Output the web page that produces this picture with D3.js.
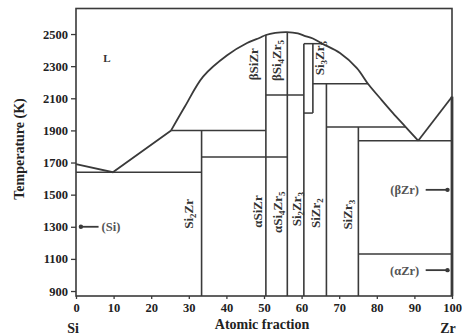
<!DOCTYPE html>
<html>
<head>
<meta charset="utf-8">
<script src="https://cdn.jsdelivr.net/npm/d3@7"></script>
<style>
  body { margin: 0; background: #fff; }
  svg { display: block; font-family: "Liberation Serif", "DejaVu Serif", serif; }
</style>
</head>
<body>
<svg width="462" height="335"></svg>
<script>
// ticks
const xTicks = [0, 10, 20, 30, 40, 50, 60, 70, 80, 90, 100];
const yTicks = [900, 1100, 1300, 1500, 1700, 1900, 2100, 2300, 2500];

// liquidus: [at.% Zr, T (K)]
const liqLeft = [[0, 1690], [9.8, 1640], [25.3, 1900]];
const liqDome = [[25.3, 1900], [29, 2050], [33.8, 2235], [40.2, 2368], [45.5, 2444],
  [48.9, 2477], [50.5, 2494], [53, 2507], [56.1, 2512], [59, 2504], [60.6, 2490],
  [63, 2472], [65.5, 2440], [70.2, 2382], [74.7, 2288], [77.7, 2189], [81.3, 2089],
  [84.3, 2008], [87.7, 1921], [91, 1836]];
const liqRight = [[91, 1836], [100, 2110]];

// invariant lines: [T, x from, x to]
const horizontals = [
  [1640, 0, 33.4], [1900, 25.3, 50.5], [1734, 33.4, 56.2], [2120, 50.5, 60.6],
  [2440, 60.6, 65.5], [2008, 60.6, 63.0], [2190, 63.0, 77.7], [1921, 66.6, 87.7],
  [1836, 75.1, 100], [1130, 75.1, 100]
];
// compound lines: [x, T top, T bottom] (null = down to the axis)
const verticals = [
  [33.4, 1900, null], [50.5, 2494, null], [56.2, 2512, null], [60.6, 2440, null],
  [63.0, 2440, 2008], [66.6, 2190, null], [75.1, 1921, null]
];

// phase labels: [x, T, parts, rotated]
const phaseLabels = [
  [8.2, 2350, [["L"]], false],
  [47.3, 2312, [["βSiZr"]], true],
  [53.3, 2335, [["βSi"], ["4", 1], ["Zr"], ["5", 1]], true],
  [64.8, 2350, [["Si"], ["3", 1], ["Zr"], ["5", 1]], true],
  [30, 1380, [["Si"], ["2", 1], ["Zr"]], true],
  [48.3, 1395, [["αSiZr"]], true],
  [53.6, 1390, [["αSi"], ["4", 1], ["Zr"], ["5", 1]], true],
  [58.5, 1410, [["Si"], ["2", 1], ["Zr"], ["3", 1]], true],
  [63.8, 1385, [["SiZr"], ["2", 1]], true],
  [72.3, 1375, [["SiZr"], ["3", 1]], true]
];
// single phase pointers: [text, label x, T, arrow from, arrow to, dot end]
const pointers = [
  ["(Si)", 9.3, 1300, 1.3, 6.0, 0],
  ["(βZr)", 87.4, 1530, 93.0, 98.8, 1],
  ["(αZr)", 87.4, 1030, 93.0, 98.8, 1]
];

const svg = d3.select("svg");
const x = d3.scaleLinear().domain([0, 100]).range([76, 452]);
const y = d3.scaleLinear().domain([869, 2659]).range([296, 8.5]);
const ink = "#3a3a3a";

// axes
svg.append("g")
  .attr("transform", "translate(76,0)")
  .call(d3.axisLeft(y).tickValues(yTicks).tickSize(5).tickPadding(3).tickFormat(d3.format("d")))
  .call(g => g.select(".domain").remove())
  .call(g => g.selectAll("line").attr("stroke", ink).attr("stroke-width", 1.3))
  .call(g => g.selectAll("text").attr("font-size", 12.5).attr("font-weight", "bold")
    .attr("fill", "#222").attr("font-family", "Liberation Serif"));

svg.append("g")
  .attr("transform", "translate(0,296)")
  .call(d3.axisBottom(x).tickValues(xTicks).tickSize(3).tickPadding(4))
  .call(g => g.select(".domain").remove())
  .call(g => g.selectAll("line").attr("stroke", ink).attr("stroke-width", 1.3))
  .call(g => g.selectAll("text").attr("font-size", 12.5).attr("font-weight", "bold")
    .attr("fill", "#222").attr("font-family", "Liberation Serif"));

// frame
svg.append("rect")
  .attr("x", x(0)).attr("y", y(2659))
  .attr("width", x(100) - x(0)).attr("height", y(869) - y(2659))
  .attr("fill", "none").attr("stroke", ink).attr("stroke-width", 1.6);

const plot = svg.append("g").attr("stroke", ink).attr("fill", "none");

plot.selectAll(".h").data(horizontals).enter().append("line")
  .attr("x1", d => x(d[1])).attr("x2", d => x(d[2]))
  .attr("y1", d => y(d[0])).attr("y2", d => y(d[0]))
  .attr("stroke-width", 1.5);

plot.selectAll(".v").data(verticals).enter().append("line")
  .attr("x1", d => x(d[0])).attr("x2", d => x(d[0]))
  .attr("y1", d => y(d[1])).attr("y2", d => y(d[2] == null ? 869 : d[2]))
  .attr("stroke-width", 1.6);

const straight = d3.line().x(d => x(d[0])).y(d => y(d[1]));
const smooth = d3.line().x(d => x(d[0])).y(d => y(d[1])).curve(d3.curveCatmullRom.alpha(0.5));
plot.append("path").attr("d", straight(liqLeft)).attr("stroke-width", 1.8);
plot.append("path").attr("d", smooth(liqDome)).attr("stroke-width", 1.8);
plot.append("path").attr("d", straight(liqRight)).attr("stroke-width", 1.8);
// thick right edge below the Zr melting point
plot.append("line")
  .attr("x1", x(100)).attr("x2", x(100)).attr("y1", y(2110)).attr("y2", y(869))
  .attr("stroke-width", 2.8);

// pointer arrows
plot.selectAll(".ptr").data(pointers).enter().append("path")
  .attr("d", d => straight([[d[3], d[2]], [d[4], d[2]]]))
  .attr("stroke-width", 1.8);
svg.selectAll(".dot").data(pointers).enter().append("circle")
  .attr("cx", d => x(d[5] ? d[4] : d[3])).attr("cy", d => y(d[2]))
  .attr("r", 2.2).attr("fill", ink);

// labels
const lab = svg.append("g").attr("fill", "#333").attr("font-weight", "bold");
phaseLabels.forEach(([lx, lt, parts, rot]) => {
  const t = lab.append("text")
    .attr("font-size", rot ? 13 : 11)
    .attr("text-anchor", "middle")
    .attr("dy", "0.35em")
    .attr("transform", `translate(${x(lx)},${y(lt)})` + (rot ? " rotate(-90)" : ""));
  let shifted = false;
  parts.forEach(([s, sub]) => {
    const ts = t.append("tspan").text(s);
    if (sub) { ts.attr("font-size", 9).attr("dy", shifted ? null : 3); shifted = true; }
    else if (shifted) { ts.attr("dy", -3); shifted = false; }
  });
});

lab.selectAll(".ptrtxt").data(pointers).enter().append("text")
  .attr("x", d => x(d[1])).attr("y", d => y(d[2])).attr("dy", "0.35em")
  .attr("text-anchor", "middle").attr("font-size", 12.5)
  .attr("fill", "#555").text(d => d[0]);

// axis titles
svg.append("text").attr("transform", "translate(24,149) rotate(-90)")
  .attr("text-anchor", "middle").attr("font-size", 14).attr("font-weight", "bold")
  .attr("fill", "#222").text("Temperature (K)");
svg.append("text").attr("x", 262).attr("y", 329)
  .attr("text-anchor", "middle").attr("font-size", 14).attr("font-weight", "bold")
  .attr("fill", "#222").text("Atomic fraction");
svg.append("text").attr("x", 73).attr("y", 333)
  .attr("text-anchor", "middle").attr("font-size", 14).attr("font-weight", "bold")
  .attr("fill", "#222").text("Si");
svg.append("text").attr("x", 448).attr("y", 333)
  .attr("text-anchor", "middle").attr("font-size", 14).attr("font-weight", "bold")
  .attr("fill", "#222").text("Zr");
</script>
</body>
</html>
